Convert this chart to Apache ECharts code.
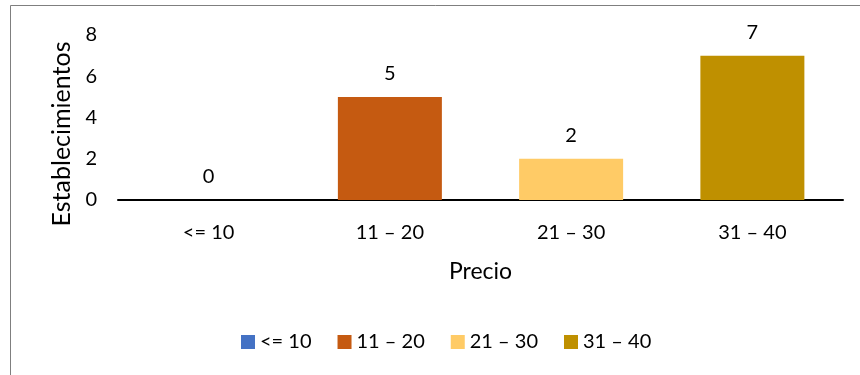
<!DOCTYPE html>
<html>
<head>
<meta charset="utf-8">
<script src="https://cdn.jsdelivr.net/npm/echarts@6/dist/echarts.min.js"></script>
<style>
  html, body { margin: 0; padding: 0; background: #fff; }
  #chart { width: 860px; height: 375px; }
</style>
</head>
<body>
<div id="chart"></div>
<script>
// Price ranges and number of establishments in each
const categories = ['<= 10', '11 – 20', '21 – 30', '31 – 40'];
const counts = [0, 5, 2, 7];
const colors = ['#4472C4', '#C55A11', '#FFCB66', '#BF9000'];
const yTicks = { min: 0, max: 8, interval: 2 };
const yTitle = 'Establecimientos';
const xTitle = 'Precio';

const FONT = 'Lato, "Open Sans", sans-serif';

// one series per range so each gets its own legend entry
const series = categories.map((name, i) => ({
  name: name,
  type: 'bar',
  barGap: '-100%',
  barWidth: 104,
  itemStyle: { color: colors[i] },
  label: {
    show: true,
    position: 'top',
    distance: 13,
    color: '#000',
    fontFamily: FONT,
    fontSize: 20
  },
  data: categories.map((c, j) => (j === i ? counts[i] : '-'))
}));

const chart = echarts.init(document.getElementById('chart'));
chart.setOption({
  animation: false,
  graphic: [
    {
      type: 'rect',
      shape: { x: 10.5, y: 5.5, width: 900, height: 500 },
      style: { fill: 'none', stroke: '#7f7f7f', lineWidth: 1 },
      silent: true
    },
    {
      // vertical axis title, sitting a little below the plot's middle
      type: 'text',
      x: 62,
      y: 134,
      rotation: Math.PI / 2,
      style: {
        text: yTitle,
        fontFamily: FONT,
        fontSize: 25,
        fill: '#000',
        align: 'center',
        verticalAlign: 'middle'
      },
      silent: true
    }
  ],
  grid: { left: 118, right: 17, top: 35, bottom: 175 },
  legend: {
    bottom: 18,
    left: 236,
    itemWidth: 14,
    itemHeight: 14,
    itemGap: 26,
    icon: 'rect',
    textStyle: { fontFamily: FONT, fontSize: 20, color: '#000' },
    data: categories
  },
  xAxis: {
    type: 'category',
    data: categories,
    name: xTitle,
    nameLocation: 'middle',
    nameGap: 60,
    nameTextStyle: { fontFamily: FONT, fontSize: 23, color: '#000' },
    axisLine: { lineStyle: { color: '#000', width: 2 } },
    axisTick: { show: false },
    axisLabel: { fontFamily: FONT, fontSize: 20, color: '#000', margin: 23 }
  },
  yAxis: {
    type: 'value',
    min: yTicks.min,
    max: yTicks.max,
    interval: yTicks.interval,
    axisLine: { show: false },
    axisTick: { show: false },
    splitLine: { show: false },
    axisLabel: { fontFamily: FONT, fontSize: 20, color: '#000', margin: 21 }
  },
  series: series
});
</script>
</body>
</html>
